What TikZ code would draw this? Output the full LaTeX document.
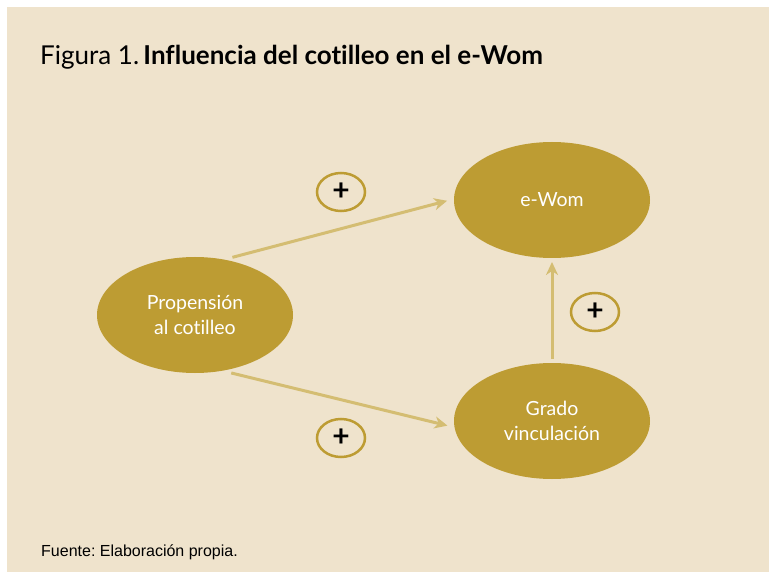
\documentclass[tikz,border=0pt]{standalone}
\usepackage{fontspec}
\setmainfont{Lato}[Ligatures=NoCommon]
\newfontfamily\arialf{Liberation Sans}
\usetikzlibrary{shapes.geometric,arrows.meta}
\definecolor{bgbeige}{HTML}{EFE3CC}
\definecolor{gold}{HTML}{BD9C33}
\definecolor{arrowgold}{HTML}{D4BD72}
\frenchspacing
\begin{document}
\begin{tikzpicture}[x=1pt,y=-1pt,
  bubble/.style={ellipse, fill=gold, minimum width=196pt, minimum height=116pt, inner sep=0pt, outer sep=4pt, text=white, font=\fontsize{19.5}{25}\selectfont, align=center},
  plusmark/.style={ellipse, draw=gold, line width=2.5pt, minimum width=48pt, minimum height=38pt, inner sep=0pt, font=\fontsize{30}{30}\selectfont\bfseries},
  link/.style={draw=arrowgold, line width=3pt, -{Stealth[length=13pt,width=12pt,inset=4pt]}}]
\useasboundingbox (0,0) rectangle (769,572);
\fill[bgbeige] (7,7) rectangle (769,572);
\node[anchor=base west, inner sep=0pt, font=\fontsize{26}{26}\selectfont] (title) at (40,65) {Figura 1.\,\textbf{Influencia del cotilleo en el e-Wom}};
\node[bubble] (ewom) at (552,200) {e-Wom};
\node[bubble] (prop) at (195,315) {Propensión\\al cotilleo};
\node[bubble] (grado) at (552,421) {Grado\\vinculación};
\node[plusmark] (p1) at (341,192) {+};
\node[plusmark] (p2) at (341,438) {+};
\node[plusmark] (p3) at (595,312) {+};
\draw[link, shorten >=3pt] (prop.57) -- (ewom.west);
\draw[link, shorten >=3pt] (prop.-58) -- (grado.183);
\draw[link] (grado.north) -- (ewom.south);
\node[anchor=base west, inner sep=0pt, font=\arialf\fontsize{16}{16}\selectfont] (src) at (41,556) {Fuente: Elaboración propia.};
\end{tikzpicture}
\end{document}
